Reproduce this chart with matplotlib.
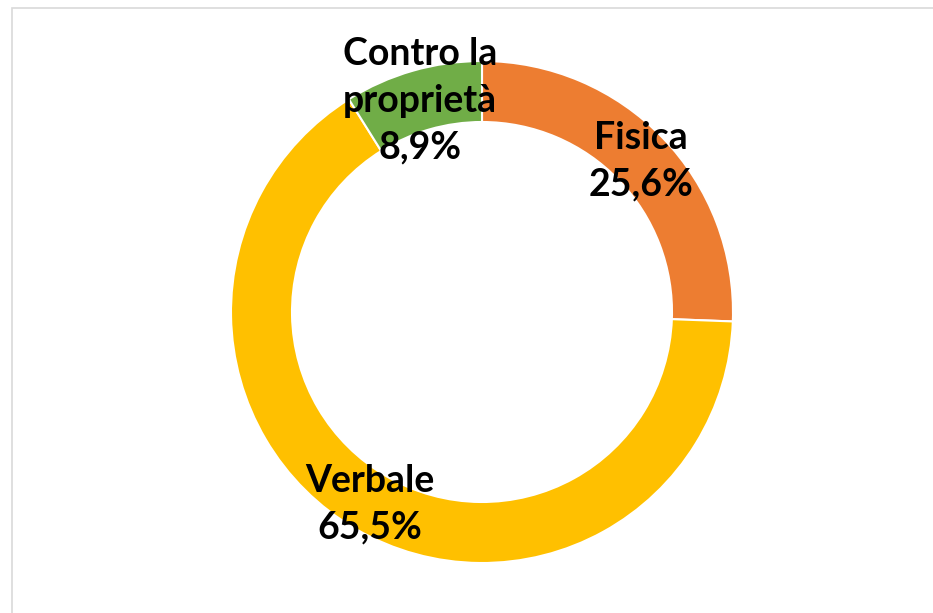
import matplotlib.pyplot as plt
from matplotlib.patches import Rectangle

# data
categories = ["Fisica", "Verbale", "Contro la\nproprietà"]
values = [25.6, 65.5, 8.9]
colors = ["#ED7D31", "#FFC000", "#70AD47"]

# label anchors (pixel positions taken from the reference layout)
label_pos = [(641, 161), (370, 504), (420, 101)]

W, H = 933, 613
fig = plt.figure(figsize=(W / 100, H / 100), dpi=100)
ax = fig.add_axes([0, 0, 1, 1])

# chart border, runs off the right and bottom edges
fig.patches.append(
    Rectangle((12 / W, -0.05), 1.1, (H - 8) / H + 0.05, transform=fig.transFigure,
              fill=False, edgecolor="#d9d9d9", linewidth=1.2)
)

ax.pie(
    values,
    colors=colors,
    startangle=90,
    counterclock=False,
    center=(482, H - 312),
    radius=251,
    wedgeprops=dict(width=61, edgecolor="white", linewidth=1.5),
    frame=True,
)
ax.set_xlim(0, W)
ax.set_ylim(0, H)
ax.set_aspect("equal")
ax.axis("off")

for cat, val, (px, py) in zip(categories, values, label_pos):
    txt = f"{cat}\n{val:.1f}%".replace(".", ",")
    ax.text(px, H - py, txt, ha="center", va="center", fontsize=27,
            fontweight="bold", family="Lato", linespacing=1.45)

fig.savefig("out.png", dpi=100)
